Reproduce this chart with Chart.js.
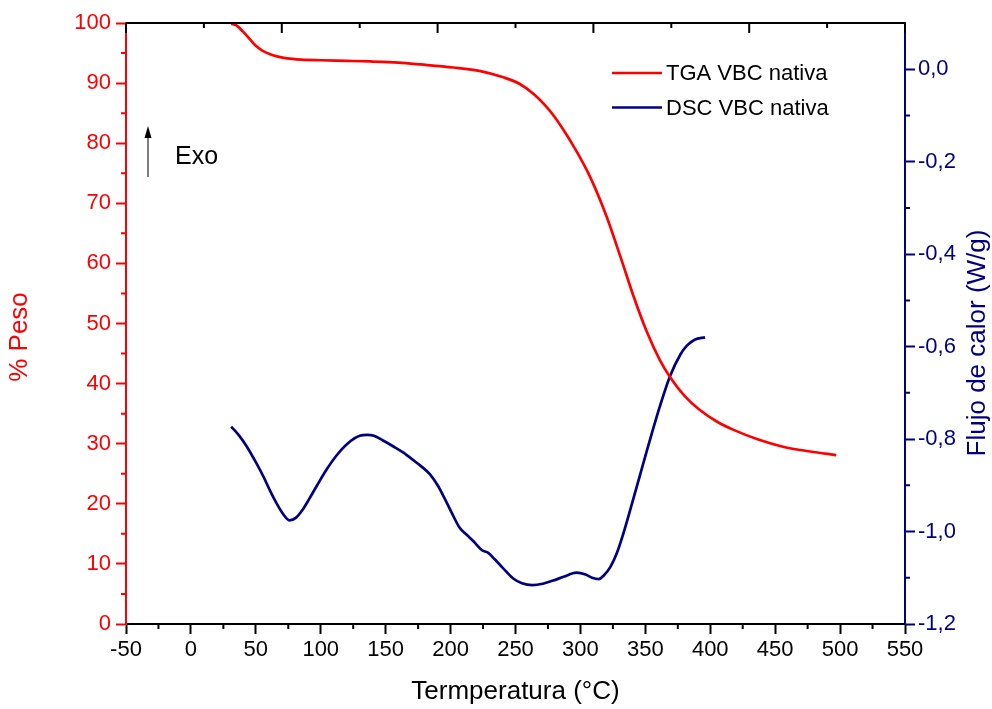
<!DOCTYPE html>
<html>
<head>
<meta charset="utf-8">
<script src="https://cdn.jsdelivr.net/npm/chart.js@4.4.0/dist/chart.umd.min.js"></script>
<style>
    body { margin: 0; background: #fff; }
    #wrap { width: 992px; height: 709px; }
</style>
</head>
<body>
<div id="wrap"><canvas id="tga-dsc" width="992" height="709"></canvas></div>
<script>
// TGA: temperatura (°C) y % de peso
const tgaTemp = [31, 35, 40, 45, 50, 55, 61, 67, 74, 85, 100, 120, 138, 160, 177, 202, 223, 240, 253, 264,
    272, 279, 287, 295, 307, 320, 331, 341, 351, 361, 369, 380, 392, 405, 418, 437, 456, 477, 497];
const tgaPeso = [99.9, 99.6, 98.6, 97.4, 96.2, 95.4, 94.8, 94.4, 94.1, 93.9, 93.8, 93.7, 93.6, 93.4, 93.1, 92.6, 92.0, 91.0, 89.9, 88.2,
    86.5, 84.7, 82.2, 79.4, 74.6, 67.9, 61.0, 54.5, 48.7, 44.0, 41.1, 38.0, 35.6, 33.7, 32.3, 30.7, 29.5, 28.7, 28.1];

// DSC: temperatura (°C) y flujo de calor (W/g)
const dscTemp = [31, 37, 43, 50, 56, 61, 66, 71, 76, 81, 86, 91, 97, 104, 112, 121, 130, 136, 141, 148,
    156, 164, 171, 177, 184, 190, 195, 201, 207, 212, 218, 224, 229, 234, 240, 248, 255, 263, 271, 279,
    287, 297, 304, 309, 314, 318, 323, 328, 333, 340, 346, 352, 361, 369, 377, 382, 388, 396];
const dscFlujo = [-0.773, -0.792, -0.816, -0.850, -0.882, -0.912, -0.939, -0.962, -0.976, -0.970, -0.953, -0.930, -0.901, -0.868, -0.836, -0.809, -0.793, -0.791, -0.793, -0.803,
    -0.816, -0.830, -0.845, -0.858, -0.876, -0.900, -0.926, -0.960, -0.992, -1.006, -1.022, -1.040, -1.046, -1.060, -1.078, -1.101, -1.112, -1.116, -1.113, -1.106,
    -1.098, -1.089, -1.093, -1.100, -1.103, -1.095, -1.077, -1.047, -1.005, -0.937, -0.877, -0.817, -0.731, -0.664, -0.617, -0.598, -0.585, -0.580];

// ejes
const tempTicks = [-50, 0, 50, 100, 150, 200, 250, 300, 350, 400, 450, 500, 550];
const pesoTicks = [0, 10, 20, 30, 40, 50, 60, 70, 80, 90, 100];
const flujoTicks = [-1.2, -1.0, -0.8, -0.6, -0.4, -0.2, 0.0];
const topTicks = [-50, 10, 70, 130, 190, 250, 310, 370, 430, 490, 550];

const ROJO = '#ff0000';
const AZUL = '#000080';
const FUENTE = "'Liberation Sans', Arial, sans-serif";

Chart.defaults.font.family = FUENTE;

function toPoints(xs, ys) {
    return xs.map((x, i) => ({ x: x, y: ys[i] }));
}

function midpoints(ticks) {
    const out = [];
    for (let i = 0; i < ticks.length - 1; i++) out.push((ticks[i] + ticks[i + 1]) / 2);
    return out;
}

// marcas menores, eje superior, leyenda, "Exo" y títulos verticales
const decoracion = {
    id: 'decoracion',
    afterDraw(chart) {
        const { ctx, chartArea: a, scales } = chart;
        ctx.save();
        ctx.lineWidth = 2;

        // eje superior con marcas hacia dentro
        ctx.strokeStyle = '#000';
        ctx.beginPath();
        ctx.moveTo(a.left, a.top);
        ctx.lineTo(a.right, a.top);
        topTicks.forEach((v, i) => {
            const x = scales.x.getPixelForValue(v);
            ctx.moveTo(x, a.top);
            ctx.lineTo(x, a.top + (i % 2 === 0 ? 10 : 5));
        });
        ctx.stroke();

        // marcas menores
        ctx.beginPath();
        midpoints(tempTicks).forEach(v => {
            const x = scales.x.getPixelForValue(v);
            ctx.moveTo(x, a.bottom);
            ctx.lineTo(x, a.bottom + 5);
        });
        ctx.stroke();

        ctx.strokeStyle = ROJO;
        ctx.beginPath();
        midpoints(pesoTicks).forEach(v => {
            const y = scales.y.getPixelForValue(v);
            ctx.moveTo(a.left, y);
            ctx.lineTo(a.left - 5, y);
        });
        ctx.stroke();

        ctx.strokeStyle = AZUL;
        ctx.beginPath();
        midpoints(flujoTicks).forEach(v => {
            const y = scales.y2.getPixelForValue(v);
            ctx.moveTo(a.right, y);
            ctx.lineTo(a.right + 5, y);
        });
        ctx.stroke();

        // leyenda
        ctx.font = '22px ' + FUENTE;
        ctx.textBaseline = 'middle';
        ctx.textAlign = 'left';
        chart.data.datasets.forEach((ds, i) => {
            const y = 73 + i * 34.5;
            ctx.strokeStyle = ds.borderColor;
            ctx.lineWidth = 2.5;
            ctx.beginPath();
            ctx.moveTo(612, y);
            ctx.lineTo(662, y);
            ctx.stroke();
            ctx.fillStyle = '#000';
            ctx.fillText(ds.label, 666, y + 1);
        });

        // flecha "Exo"
        ctx.strokeStyle = '#000';
        ctx.fillStyle = '#000';
        ctx.lineWidth = 1;
        ctx.beginPath();
        ctx.moveTo(148, 177);
        ctx.lineTo(148, 136);
        ctx.stroke();
        ctx.beginPath();
        ctx.moveTo(148, 126);
        ctx.lineTo(144.5, 138);
        ctx.lineTo(151.5, 138);
        ctx.closePath();
        ctx.fill();
        ctx.font = '25px ' + FUENTE;
        ctx.textBaseline = 'alphabetic';
        ctx.fillText('Exo', 175, 164);

        // títulos de los ejes verticales
        ctx.font = '26px ' + FUENTE;
        ctx.textAlign = 'center';
        ctx.textBaseline = 'middle';
        ctx.fillStyle = ROJO;
        ctx.save();
        ctx.translate(20, 337);
        ctx.rotate(-Math.PI / 2);
        ctx.fillText('% Peso', 0, 0);
        ctx.restore();
        ctx.fillStyle = AZUL;
        ctx.save();
        ctx.translate(978, 343);
        ctx.rotate(-Math.PI / 2);
        ctx.fillText('Flujo de calor (W/g)', 0, 0);
        ctx.restore();

        ctx.restore();
    }
};

const ctx = document.getElementById('tga-dsc').getContext('2d');

new Chart(ctx, {
    type: 'line',
    data: {
        datasets: [{
            label: 'TGA VBC nativa',
            data: toPoints(tgaTemp, tgaPeso),
            borderColor: ROJO,
            borderWidth: 2.7,
            pointRadius: 0,
            cubicInterpolationMode: 'monotone',
            yAxisID: 'y'
        }, {
            label: 'DSC VBC nativa',
            data: toPoints(dscTemp, dscFlujo),
            borderColor: AZUL,
            borderWidth: 2.7,
            pointRadius: 0,
            cubicInterpolationMode: 'monotone',
            yAxisID: 'y2'
        }]
    },
    options: {
        responsive: false,
        animation: false,
        layout: { padding: { top: 23, right: 0, left: 0, bottom: 0 } },
        plugins: {
            legend: { display: false },
            tooltip: { enabled: false }
        },
        scales: {
            x: {
                type: 'linear',
                position: 'bottom',
                min: -50,
                max: 550,
                afterBuildTicks: s => { s.ticks = tempTicks.map(v => ({ value: v })); },
                afterFit: s => { s.height = 85; },
                ticks: { color: '#000', font: { size: 22 }, padding: 3, maxRotation: 0 },
                grid: { drawOnChartArea: false, tickLength: 10, tickColor: '#000', tickWidth: 2 },
                border: { color: '#000', width: 2 },
                title: {
                    display: true,
                    text: 'Termperatura (°C)',
                    color: '#000',
                    font: { size: 26 },
                    padding: { top: 0, bottom: 2 }
                }
            },
            y: {
                type: 'linear',
                position: 'left',
                min: 0,
                max: 100,
                afterBuildTicks: s => { s.ticks = pesoTicks.map(v => ({ value: v })); },
                afterFit: s => { s.width = 126; },
                ticks: { color: ROJO, font: { size: 22 }, padding: 5 },
                grid: { drawOnChartArea: false, tickLength: 10, tickColor: ROJO, tickWidth: 2 },
                border: { color: ROJO, width: 2 }
            },
            y2: {
                type: 'linear',
                position: 'right',
                min: -1.2,
                max: 0.1,
                afterBuildTicks: s => { s.ticks = flujoTicks.map(v => ({ value: v })); },
                afterFit: s => { s.width = 87; },
                ticks: {
                    color: AZUL,
                    font: { size: 22 },
                    padding: 3,
                    callback: v => v.toFixed(1).replace('.', ',')
                },
                grid: { drawOnChartArea: false, tickLength: 10, tickColor: AZUL, tickWidth: 2 },
                border: { color: AZUL, width: 2 }
            }
        }
    },
    plugins: [decoracion]
});
</script>
</body>
</html>
